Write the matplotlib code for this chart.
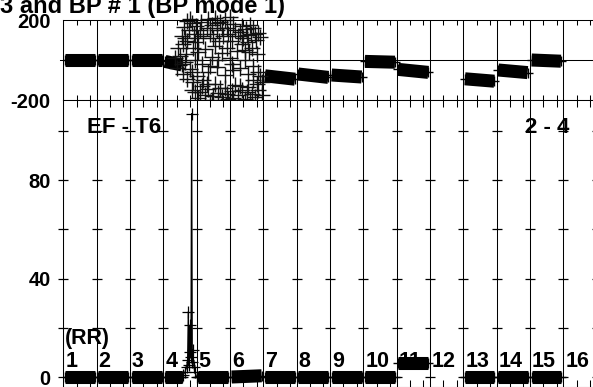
import numpy as np
import matplotlib.pyplot as plt

plt.rcParams['font.family'] = ['Liberation Sans', 'DejaVu Sans']
plt.rcParams['font.weight'] = 'bold'

# segment numbers and start/end time of each band (x in segment units)
seg_no = list(range(1, 17))
seg_t0 = [0.05, 1.05, 2.05, 3.05, 4.05, 5.05, 6.05, 7.05, 8.05, 9.05, 10.05, 11.05, 12.05, 13.05, 14.05, 15.05]
seg_t1 = [0.95, 1.95, 2.95, 3.56, 4.95, 5.95, 6.95, 7.95, 8.95, 9.95, 10.95, 11.95, 12.93, 13.93, 14.93, 15.93]

# BP (top) band level at start / end of each segment
bp_a = [0, 0, 0, -7, np.nan, np.nan, -79, -70, -75, -7, -47, np.nan, -94, -50, 0, np.nan]
bp_b = [0, 0, 0, -25, np.nan, np.nan, -96, -87, -85, -11, -62, np.nan, -106, -63, -6, np.nan]

# RR (bottom) band level at start / end of each segment
rr_a = [0, 0, 0, 0, 0, 0, 0, 0, 0, 0, 5.7, np.nan, 0, 0, 0, np.nan]
rr_b = [0, 0, 0, 0, 0, 0.5, 0, 0, 0, 0, 5.7, np.nan, 0, 0, 0, np.nan]

# scattered BP points (segments 4-6)
cloud_t = [3.55, 3.62, 3.70, 3.78, 3.85, 3.92, 3.98, 4.05, 3.60, 3.72, 3.88, 4.10,
           4.35, 4.45, 4.55, 4.62, 4.70, 4.78, 4.85, 4.92, 5.00, 5.08, 4.50, 4.68,
           5.30, 5.40, 5.48, 5.55, 5.62, 5.70, 5.78, 5.85, 5.45, 5.65, 5.80,
           3.35, 3.42, 3.50, 3.58, 3.65, 3.72, 3.80, 3.90, 3.95,
           4.05, 4.15, 4.25, 4.35, 4.45, 4.60, 4.75, 4.85, 5.00, 5.10, 5.20,
           3.95, 4.05, 4.15, 4.25, 4.35, 4.45, 4.55, 4.65, 4.75, 4.85, 4.95, 5.05,
           5.15, 5.25, 5.35, 5.45, 5.55, 5.65, 5.75, 5.85,
           5.55, 5.70, 5.90, 5.95,
           3.66, 3.80, 3.95, 4.12, 4.20, 4.30, 4.40, 4.60, 4.75, 4.95, 5.05, 5.15,
           5.25, 5.35, 5.52, 5.60, 5.75, 5.90, 5.35, 5.58,
           3.45, 3.55, 3.68, 3.85, 4.00, 4.20, 4.40, 4.55, 4.65, 4.90, 5.05, 5.30,
           5.45, 5.70, 5.85,
           3.85, 4.10, 4.30, 4.50, 4.70, 4.90, 5.10, 5.30, 5.50, 5.60, 5.80, 5.95,
           4.40, 5.00]
cloud_bp = [120, 165, 195, 150, 185, 130, 170, 110, 80, 95, 60, 150,
            205, 175, 210, 150, 190, 120, 200, 160, 215, 180, 110, 95,
            140, 110, 155, 90, 130, 160, 100, 135, 50, 60, 30,
            10, -40, 20, -70, -10, -95, -45, -110, 0,
            40, -20, 55, -60, 15, -35, 35, -75, 10, -50, 45,
            -160, -190, -130, -175, -145, -200, -120, -165, -185, -140, -195, -155,
            -125, -175, -150, -195, -135, -170, -185, -150,
            -70, -100, -80, -110,
            110, 205, 90, 190, 120, 160, 130, 185, 160, 130, 95, 150,
            120, 170, 125, 175, 130, 115, 80, 40,
            60, -20, 30, -60, -80, -100, -30, 70, 0, 60, -20, -40,
            0, -30, -60,
            -150, -160, -120, -180, -140, -170, -190, -130, -160, -200, -120, -175,
            -210, -215]

# RR burst between segments 4 and 5
burst_t = [3.55, 3.60, 3.65, 3.70, 3.73, 3.75, 3.77, 3.79, 3.81, 3.83, 3.85, 3.87, 3.89, 3.92, 3.95, 4.0]
burst_rr = [0, 1, 2, 4, 7, 26.5, 5, 21, 10, 8, 107, 6, 11, 4, 2, 0]

fig = plt.figure(figsize=(5.93, 3.87), dpi=100)
L, W = 63.3 / 593, 533.3 / 593
ax1 = fig.add_axes([L, 287 / 387, W, 80 / 387])
ax2 = fig.add_axes([L, 0, W, 287 / 387])

minor = [i + f for i in range(16) for f in (0.4, 0.8)]
for ax in (ax1, ax2):
    ax.set_xlim(0, 16)
    ax.set_xticks(range(17))
    ax.set_xticks(minor, minor=True)
    ax.set_xticklabels([])
    ax.grid(axis='x', color='k', lw=0.75)
    ax.set_axisbelow(True)
    ax.tick_params(axis='x', which='major', length=0)
    for s in ax.spines.values():
        s.set_linewidth(0.75)
    ax.tick_params(axis='y', length=0, pad=9, labelsize=14.5)

ax1.tick_params(axis='x', which='minor', direction='in', top=True, bottom=True, length=3.5, width=0.75)
ax2.tick_params(axis='x', which='minor', direction='in', top=True, bottom=True, length=5, width=0.75)

# top panel
ax1.set_ylim(-200, 200)
ax1.set_yticks([200, -200])
ax1.set_yticklabels(['200', '-200'])
ax1.axhline(0, xmin=-0.006, color='k', lw=0.75, clip_on=False)
for i in range(16):
    if np.isnan(bp_a[i]):
        continue
    ax1.plot([seg_t0[i], seg_t1[i]], [bp_a[i], bp_b[i]], color='k', lw=9.4, solid_capstyle='butt')
    ax1.plot([seg_t0[i], seg_t1[i]], [bp_a[i], bp_b[i]], ls='none', marker='+', ms=7.5, mew=1, color='k')
ax1.plot(cloud_t, cloud_bp, ls='none', marker='+', ms=11, mew=1.0, color='#111111', clip_on=False)

# bottom panel
ax2.set_ylim(-4.06, 112.5)
ax2.set_yticks([0, 40, 80])
ax2.set_yticklabels(['0', '40', '80'])
for x in range(17):
    ax2.plot([x] * 6, [0, 20, 40, 60, 80, 100], ls='none', marker='_', ms=7.5, mew=0.9, color='k', clip_on=False)
for i in range(16):
    if np.isnan(rr_a[i]):
        continue
    ax2.plot([seg_t0[i], seg_t1[i]], [rr_a[i], rr_b[i]], color='k', lw=9.4, solid_capstyle='butt')
    ax2.plot([seg_t0[i], seg_t1[i]], [rr_a[i], rr_b[i]], ls='none', marker='+', ms=7.5, mew=1, color='k')
ax2.plot(burst_t, burst_rr, color='k', lw=0.9, marker='+', ms=9, mew=0.9)

for i, n in enumerate(seg_no):
    ax2.text(i + 0.06, 4, str(n), fontsize=15.5, ha='left', va='baseline')
ax2.text(0.06, 13.4, '(RR)', fontsize=15.5, ha='left', va='baseline')
ax2.text(0.72, 99, 'EF - T6', fontsize=16, ha='left', va='baseline')
ax2.text(13.85, 99, '2 - 4', fontsize=16, ha='left', va='baseline')

fig.text(0.0, 1 - 13 / 387, '3 and BP # 1 (BP mode 1)', fontsize=17, ha='left', va='baseline')

fig.savefig('out.png', dpi=100)
